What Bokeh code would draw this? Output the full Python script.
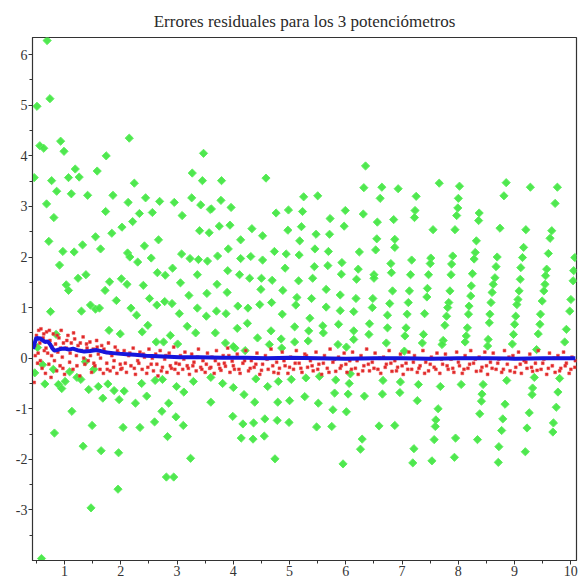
import math
from bokeh.plotting import figure
from bokeh.models import Range1d, FixedTicker
from bokeh.embed import file_html
from bokeh.resources import INLINE

title_text = "Errores residuales para los 3 potenciómetros"
x_ticks = [1, 2, 3, 4, 5, 6, 7, 8, 9, 10]
x_minor = [0.5, 1.5, 2.5, 3.5, 4.5, 5.5, 6.5, 7.5, 8.5, 9.5]
y_ticks = [-3, -2, -1, 0, 1, 2, 3, 4, 5, 6]
y_minor = [-3.5, -2.5, -1.5, -0.5, 0.5, 1.5, 2.5, 3.5, 4.5, 5.5]

# potentiometer 1 (green diamonds): (x, residual)
green_pts = [
    (0.69, 6.28), (0.51, 4.98), (0.74, 5.13), (0.56, 4.20), (0.63, 4.15), (0.93, 4.29), (0.99, 4.09),
    (0.46, 3.57), (0.77, 3.51), (0.86, 3.30), (1.07, 3.57), (1.19, 3.74), (1.26, 3.58), (1.12, 3.25),
    (1.41, 3.22), (1.58, 3.70), (1.74, 4.00), (2.15, 4.35), (2.24, 3.46), (1.86, 3.22), (2.13, 3.08),
    (0.68, 3.05), (0.81, 2.78), (1.73, 2.90), (2.33, 2.86), (2.21, 2.70), (2.44, 3.17), (2.69, 3.10),
    (2.56, 2.88), (2.95, 3.08), (3.09, 2.82), (3.27, 3.66), (3.26, 3.17), (2.02, 2.59),
    (3.47, 4.05), (3.45, 3.51), (3.42, 3.03), (3.59, 2.94), (0.72, 2.31), (0.97, 2.11), (1.17, 2.10),
    (1.32, 2.24), (1.55, 2.40), (1.64, 2.16), (1.84, 2.47), (0.91, 1.84), (2.12, 2.08), (2.16, 2.00),
    (2.30, 1.90), (2.42, 2.22), (2.67, 2.34), (2.54, 1.98), (3.08, 2.06), (3.23, 1.97), (3.38, 1.95),
    (3.54, 1.92), (3.40, 2.52), (3.57, 2.48), (2.65, 1.69), (2.79, 1.64), (2.92, 1.78), (3.36, 1.65),
    (1.24, 1.58), (1.38, 1.65), (1.03, 1.45), (1.07, 1.34), (1.80, 1.51), (1.72, 1.34), (2.01, 1.57),
    (2.11, 1.46), (2.40, 1.44), (3.06, 1.49), (3.53, 1.28), (2.51, 1.18), (2.64, 1.05), (2.78, 1.12),
    (2.91, 1.08), (3.21, 1.24), (1.92, 1.14), (0.75, 0.92), (1.30, 0.93), (1.46, 1.05), (1.55, 0.97),
    (1.62, 0.99), (2.18, 0.99), (2.28, 0.85), (3.04, 0.88), (3.36, 0.99), (3.52, 0.83), (2.48, 0.65),
    (3.18, 0.63), (1.79, 0.55), (1.99, 0.48), (2.38, 0.52), (0.85, 0.47), (2.88, 0.45), (3.33, 0.50),
    (2.63, 0.32), (2.76, 0.32), (3.01, 0.28), (0.52, 0.21),
    (6.35, 3.80), (3.79, 3.51), (4.58, 3.56), (6.32, 3.37), (6.64, 3.38), (6.61, 3.16), (5.25, 3.19),
    (5.50, 3.21), (3.78, 3.12), (3.96, 2.98), (3.61, 2.95), (4.76, 2.87), (4.98, 2.93), (5.23, 2.90),
    (5.99, 2.92), (6.31, 2.85), (5.72, 2.76), (6.56, 2.69), (6.85, 2.74), (3.75, 2.61), (3.94, 2.63),
    (4.33, 2.56), (4.97, 2.53), (5.21, 2.60), (5.47, 2.45), (5.71, 2.45), (5.97, 2.61), (4.13, 2.34),
    (4.52, 2.42), (5.18, 2.32), (6.55, 2.36), (3.91, 2.16), (4.73, 2.11), (4.94, 2.06), (5.17, 2.04),
    (5.45, 2.16), (5.69, 2.11), (6.24, 2.10), (6.53, 2.14), (3.72, 2.02), (4.13, 1.97), (4.31, 2.01),
    (4.52, 1.94), (5.93, 1.89), (6.80, 1.87), (3.90, 1.73), (4.11, 1.65), (4.29, 1.58), (4.50, 1.58),
    (4.69, 1.54), (4.92, 1.78), (5.16, 1.53), (5.41, 1.58), (5.44, 1.81), (5.68, 1.83), (5.92, 1.66),
    (6.19, 1.56), (6.22, 1.76), (6.50, 1.65), (6.50, 1.58), (6.81, 1.69), (3.71, 1.46), (4.49, 1.36),
    (3.89, 1.30), (4.88, 1.34), (5.65, 1.36), (5.90, 1.25), (5.13, 1.20), (5.11, 1.05), (5.39, 1.18),
    (6.18, 1.18), (6.48, 1.18), (6.47, 1.00), (6.78, 1.08), (4.08, 1.03), (4.26, 0.99), (4.47, 1.06),
    (4.68, 1.10), (5.65, 1.01), (5.90, 0.94), (6.14, 0.92), (3.70, 0.93), (3.87, 0.88), (4.87, 0.87),
    (5.36, 0.79), (6.74, 0.85), (4.25, 0.69), (4.07, 0.59), (4.67, 0.54), (5.09, 0.62), (5.34, 0.54),
    (5.59, 0.64), (5.60, 0.50), (5.87, 0.67), (6.14, 0.54), (6.42, 0.68), (6.41, 0.47), (6.74, 0.60),
    (3.68, 0.50), (4.43, 0.40), (3.86, 0.30), (4.03, 0.20), (4.64, 0.27), (4.85, 0.38), (4.86, 0.20),
    (5.09, 0.32), (5.33, 0.34), (5.86, 0.27), (6.14, 0.37), (6.72, 0.30), (4.00, 0.23), (4.21, 0.15),
    (6.01, 0.22),
    (6.93, 3.35), (6.87, 2.35), (6.87, 2.19), (6.83, 1.33),
    (7.25, 3.20), (7.23, 2.92), (7.22, 2.78), (7.17, 1.94), (7.15, 1.65), (7.13, 1.33), (7.11, 1.10),
    (7.09, 0.87), (7.07, 0.60), (7.05, 0.44), (7.04, 0.14),
    (7.55, 2.54), (7.51, 1.98), (7.50, 1.87), (7.47, 1.65), (7.45, 1.38), (7.44, 1.21), (7.40, 0.88),
    (7.38, 0.47), (7.36, 0.30),
    (7.66, 3.46), (8.02, 3.40), (8.00, 3.16), (7.99, 2.97), (7.97, 2.82), (7.94, 2.54), (7.90, 2.02),
    (7.88, 1.86), (7.87, 1.65), (7.85, 1.33), (7.83, 1.10), (7.81, 1.00), (7.79, 0.83), (7.76, 0.65),
    (7.73, 0.35), (7.71, 0.27),
    (8.37, 2.87), (8.36, 2.72), (8.32, 2.32), (8.30, 2.09), (8.28, 1.96), (8.25, 1.67), (8.23, 1.43),
    (8.22, 1.23), (8.19, 1.03), (8.18, 0.87), (8.16, 0.60), (8.14, 0.44), (8.12, 0.32),
    (8.85, 3.47), (8.81, 3.21), (8.74, 2.57), (8.69, 2.00), (8.67, 1.81), (8.65, 1.59), (8.62, 1.46),
    (8.60, 1.30), (8.58, 1.10), (8.56, 0.87), (8.55, 0.70), (8.53, 0.37), (8.52, 0.24),
    (9.28, 3.38), (9.20, 2.54), (9.16, 2.19), (9.14, 1.99), (9.11, 1.79), (9.10, 1.56), (9.08, 1.33),
    (9.06, 1.16), (9.04, 1.06), (9.02, 0.83), (9.00, 0.67), (8.98, 0.47), (8.96, 0.28),
    (9.76, 3.38), (9.72, 3.06), (9.66, 2.52), (9.63, 2.37), (9.60, 2.07), (9.57, 1.76), (9.55, 1.63),
    (9.54, 1.46), (9.52, 1.33), (9.49, 1.13), (9.46, 0.87), (9.45, 0.67), (9.42, 0.48), (9.39, 0.17),
    (10.07, 1.99), (10.05, 1.73), (10.04, 1.53), (10.00, 1.16), (9.98, 0.93), (9.92, 0.57), (9.89, 0.32),
    (0.47, -0.29), (0.65, -0.51), (0.80, -0.22), (0.61, -0.13), (0.89, -0.52), (0.95, -0.60),
    (1.01, -0.46), (1.09, -0.27), (1.22, -0.38), (1.29, -0.42), (1.37, -0.07), (1.52, -0.22),
    (1.13, -1.05), (0.82, -1.48), (1.43, -0.62), (1.60, -0.56), (1.77, -0.51), (1.68, -0.79),
    (1.88, -0.64), (1.97, -0.82), (2.06, -0.65), (1.49, -1.33), (1.33, -1.74), (1.65, -1.83),
    (1.96, -1.87), (2.04, -1.37), (2.26, -0.89), (2.37, -0.50), (2.46, -0.75), (2.34, -1.37),
    (2.60, -1.26), (2.73, -1.05), (2.85, -0.89), (2.61, -0.44), (2.74, -0.42), (2.99, -0.56),
    (3.12, -0.67), (2.98, -1.16), (3.11, -1.33), (2.83, -1.55), (3.29, -0.46), (3.24, -1.98),
    (2.81, -2.35), (2.94, -2.35), (1.95, -2.59), (1.47, -2.96), (0.59, -3.96), (3.60, -0.87),
    (3.60, -0.38),
    (3.81, -0.50), (4.00, -0.58), (4.19, -0.72), (4.38, -0.87), (4.40, -0.41), (4.61, -0.56),
    (4.80, -0.46), (5.03, -0.42), (4.79, -0.87), (5.00, -0.84), (5.27, -0.76), (5.29, -0.39),
    (5.53, -0.36), (5.51, -0.89), (5.80, -0.69), (5.77, -1.02), (5.82, -0.43), (6.06, -0.50),
    (6.04, -0.71), (6.01, -1.06), (6.08, -0.31), (6.33, -0.75), (6.66, -0.44), (6.65, -0.71),
    (3.99, -1.15), (4.17, -1.30), (4.36, -1.28), (4.56, -1.20), (4.78, -1.23), (4.99, -1.27),
    (4.14, -1.58), (4.35, -1.60), (4.55, -1.54), (4.74, -1.99), (5.48, -1.36), (5.75, -1.35),
    (5.95, -2.09), (6.29, -1.60), (6.26, -1.80), (6.59, -1.34), (6.87, -1.33),
    (6.97, -0.47), (6.96, -0.68), (7.29, -0.52), (7.27, -0.84), (7.21, -1.79), (7.19, -2.07),
    (7.68, -0.56), (7.64, -1.00), (7.60, -1.22), (7.59, -1.35), (7.57, -1.61), (7.53, -2.03),
    (8.05, -0.52), (7.95, -1.58), (7.93, -1.96), (8.44, -0.52), (8.42, -0.71), (8.41, -0.85),
    (8.38, -1.10), (8.34, -1.61), (8.86, -0.44), (8.83, -0.91), (8.79, -1.20), (8.77, -1.43),
    (8.72, -1.75), (8.71, -2.06), (9.35, -0.38), (9.32, -0.59), (9.31, -0.72), (9.26, -1.08),
    (9.22, -1.38), (9.19, -1.85), (9.80, -0.40), (9.77, -0.67), (9.74, -0.97), (9.69, -1.28),
    (9.68, -1.46),
]

# potentiometer 2 (red dots)
red_pts = [
    (0.46, -0.48), (0.48, 0.05), (0.50, 0.45), (0.52, -0.10), (0.54, 0.55), (0.56, 0.30), (0.58, 0.58),
    (0.60, -0.20), (0.62, 0.40), (0.64, 0.15), (0.66, -0.30), (0.68, 0.52), (0.70, 0.10), (0.72, -0.12),
    (0.74, 0.35), (0.76, -0.38), (0.78, 0.22), (0.80, 0.48), (0.82, -0.05), (0.84, 0.28), (0.86, -0.25),
    (0.88, 0.12), (0.90, 0.40), (0.92, -0.15), (0.94, 0.55), (0.96, 0.02), (0.98, 0.30), (1.00, -0.32),
    (1.03, 0.20), (1.06, 0.45), (1.09, -0.08), (1.12, 0.30), (1.15, -0.22), (1.18, 0.38), (1.21, 0.05),
    (1.24, 0.25), (1.27, -0.35), (1.30, 0.15), (1.33, 0.42), (1.36, -0.12), (1.39, 0.28), (1.42, -0.05),
    (1.45, 0.32), (1.48, -0.28), (1.51, 0.18), (1.54, -0.15), (1.57, 0.35), (1.60, 0.08), (1.63, -0.22),
    (1.66, 0.25), (1.69, -0.30), (1.72, 0.12), (1.75, -0.10), (1.78, 0.30), (1.81, -0.25), (1.84, 0.05),
    (1.87, -0.18), (1.90, 0.22), (1.93, -0.30), (1.96, 0.10), (1.99, -0.12),
    (2.02, -0.20), (2.06, 0.15), (2.10, -0.28), (2.14, 0.05), (2.18, -0.15), (2.22, 0.20), (2.26, -0.32),
    (2.30, -0.05), (2.34, 0.12), (2.38, -0.22), (2.42, 0.02), (2.46, -0.30), (2.50, 0.18), (2.54, -0.12),
    (2.58, -0.25), (2.62, 0.08), (2.66, -0.35), (2.70, 0.15), (2.74, -0.18), (2.78, -0.02), (2.82, -0.28),
    (2.86, 0.10), (2.90, -0.20), (2.94, 0.22), (2.98, -0.10), (3.02, -0.30), (3.06, 0.05), (3.10, -0.22),
    (3.14, 0.12), (3.18, -0.15), (3.22, -0.32), (3.26, 0.08), (3.30, -0.08), (3.34, -0.25), (3.38, 0.18),
    (3.42, -0.18), (3.46, -0.05), (3.50, -0.28), (3.54, 0.10), (3.58, -0.20), (3.62, 0.02), (3.66, -0.30),
    (3.70, 0.15), (3.74, -0.12), (3.78, -0.24), (3.82, 0.05), (3.86, -0.16), (3.90, 0.20), (3.94, -0.28),
    (3.98, -0.06),
    (4.02, -0.22), (4.07, 0.08), (4.12, -0.30), (4.17, -0.10), (4.22, 0.15), (4.27, -0.25), (4.32, -0.05),
    (4.37, -0.18), (4.42, 0.10), (4.47, -0.32), (4.52, -0.12), (4.57, 0.05), (4.62, -0.22), (4.67, 0.18),
    (4.72, -0.28), (4.77, -0.08), (4.82, -0.20), (4.87, 0.12), (4.92, -0.15), (4.97, -0.30), (5.02, 0.02),
    (5.07, -0.22), (5.12, 0.15), (5.17, -0.10), (5.22, -0.28), (5.27, 0.08), (5.32, -0.18), (5.37, -0.05),
    (5.42, -0.25), (5.47, 0.12), (5.52, -0.12), (5.57, -0.32), (5.62, 0.05), (5.67, -0.20), (5.72, 0.18),
    (5.77, -0.08), (5.82, -0.26), (5.87, 0.02), (5.92, -0.15), (5.97, 0.10),
    (6.02, -0.28), (6.07, -0.05), (6.12, 0.12), (6.17, -0.20), (6.22, -0.32), (6.27, 0.05), (6.32, -0.15),
    (6.37, 0.18), (6.42, -0.25), (6.47, -0.08), (6.52, 0.10), (6.57, -0.22), (6.62, -0.30), (6.67, 0.02),
    (6.72, -0.12), (6.77, 0.15), (6.82, -0.26), (6.87, -0.05), (6.92, -0.18), (6.97, 0.08), (7.02, -0.32),
    (7.07, -0.10), (7.12, 0.12), (7.17, -0.22), (7.22, 0.05), (7.27, -0.28), (7.32, -0.15), (7.37, 0.15),
    (7.42, -0.08), (7.47, -0.25), (7.52, 0.02), (7.57, -0.18), (7.62, 0.10), (7.67, -0.30), (7.72, -0.12),
    (7.77, 0.08), (7.82, -0.22), (7.87, -0.02), (7.92, -0.28), (7.97, 0.12),
    (8.02, -0.15), (8.07, -0.30), (8.12, 0.05), (8.17, -0.20), (8.22, 0.15), (8.27, -0.10), (8.32, -0.26),
    (8.37, 0.02), (8.42, -0.18), (8.47, 0.12), (8.52, -0.32), (8.57, -0.08), (8.62, 0.10), (8.67, -0.22),
    (8.72, -0.02), (8.77, -0.28), (8.82, 0.15), (8.87, -0.12), (8.92, -0.25), (8.97, 0.05), (9.02, -0.18),
    (9.07, 0.12), (9.12, -0.30), (9.17, -0.05), (9.22, -0.20), (9.27, 0.08), (9.32, -0.26), (9.37, -0.10),
    (9.42, 0.15), (9.47, -0.22), (9.52, -0.02), (9.57, -0.32), (9.62, 0.10), (9.67, -0.15), (9.72, -0.28),
    (9.77, 0.05), (9.82, -0.20), (9.87, 0.12), (9.92, -0.10), (9.97, -0.30), (10.02, 0.02), (10.07, -0.18),
    (0.47, 0.25), (0.53, 0.10), (0.57, -0.05), (0.63, 0.48), (0.67, 0.20), (0.73, 0.55), (0.77, 0.05),
    (0.83, 0.15), (0.87, 0.45), (0.93, 0.20), (0.97, -0.20), (1.04, 0.35), (1.10, 0.10), (1.16, 0.50),
    (1.22, -0.15), (1.28, 0.30), (1.34, 0.00), (1.40, 0.20), (1.46, 0.05), (1.52, -0.10), (1.58, 0.22),
    (1.64, 0.00), (1.70, 0.18), (1.76, -0.22), (1.82, 0.10), (1.88, -0.05), (1.94, 0.15), (2.00, -0.22),
    (2.08, -0.10), (2.16, 0.10), (2.24, -0.20), (2.32, -0.10), (2.40, 0.08), (2.48, -0.18), (2.56, 0.00),
    (2.64, -0.12), (2.72, -0.25), (2.80, 0.05), (2.88, -0.15), (2.96, -0.22), (3.04, -0.12), (3.12, -0.02),
    (3.20, -0.20), (3.28, -0.15), (3.36, 0.02), (3.44, -0.22), (3.52, -0.12), (3.60, -0.18), (3.68, -0.05),
    (3.76, -0.20), (3.84, -0.10), (3.92, 0.05), (4.00, -0.15), (4.10, -0.22), (4.20, -0.05), (4.30, -0.20),
    (4.40, -0.12), (4.50, -0.24), (4.60, -0.02), (4.70, -0.15), (4.80, -0.30), (4.90, -0.05), (5.00, -0.18),
    (5.10, -0.10), (5.20, -0.20), (5.30, 0.05), (5.40, -0.15), (5.50, -0.22), (5.60, -0.10), (5.70, -0.28),
    (5.80, -0.02), (5.90, -0.20), (6.00, -0.12), (6.10, -0.22), (6.20, -0.05), (6.30, -0.25), (6.40, -0.12),
    (6.50, -0.20), (6.60, 0.00), (6.70, -0.18), (6.80, -0.10), (6.90, -0.25), (7.00, -0.15), (7.10, -0.22),
    (7.20, -0.08), (7.30, -0.20), (7.40, -0.30), (7.50, -0.12), (7.60, -0.22), (7.70, -0.02), (7.80, -0.15),
    (7.90, -0.20), (8.00, -0.08), (8.10, -0.22), (8.20, -0.12), (8.30, -0.02), (8.40, -0.25), (8.50, -0.15),
    (8.60, -0.20), (8.70, -0.10), (8.80, -0.22), (8.90, 0.02), (9.00, -0.28), (9.10, -0.12), (9.20, -0.08),
    (9.30, -0.18), (9.40, -0.24), (9.50, -0.10), (9.60, -0.20), (9.70, 0.00), (9.80, -0.25), (9.90, -0.15),
    (10.00, -0.22), (10.08, -0.05),
]

# potentiometer 3 (blue)
blue_x = [0.44, 0.47, 0.50, 0.53, 0.56, 0.60, 0.65, 0.70, 0.74, 0.78, 0.82, 0.86, 0.92, 1.00, 1.08,
          1.15, 1.25, 1.35, 1.45, 1.57, 1.65, 1.75, 1.86, 1.95, 2.10, 2.25, 2.45, 2.65, 2.85, 3.05,
          3.40, 3.80, 4.20, 4.60, 5.00, 5.50, 6.00, 6.50, 7.00, 7.50, 8.00, 8.50, 9.00, 9.50, 10.00, 10.08]
blue_y = [0.18, 0.30, 0.41, 0.38, 0.40, 0.36, 0.32, 0.33, 0.28, 0.20, 0.15, 0.16, 0.18, 0.19, 0.17,
          0.19, 0.15, 0.13, 0.14, 0.16, 0.14, 0.11, 0.10, 0.09, 0.08, 0.07, 0.05, 0.04, 0.03, 0.02,
          0.02, 0.01, 0.01, 0.00, 0.01, 0.00, -0.01, 0.00, 0.00, -0.01, 0.00, 0.00, -0.01, 0.00, 0.00, 0.00]

green_x = [a for a, b in green_pts]
green_y = [b for a, b in green_pts]
red_x = [a for a, b in red_pts]
red_y = [b for a, b in red_pts]

p = figure(width=578, height=583, output_backend="svg", toolbar_location=None,
           x_range=Range1d(0.43, 10.10), y_range=Range1d(-4.0, 6.34),
           min_border_left=32, min_border_right=2, min_border_top=37, min_border_bottom=23)
p.background_fill_color = "white"
p.border_fill_color = "white"
p.outline_line_color = "#333333"
p.outline_line_width = 1.2
p.grid.visible = False

p.title.text = title_text
p.title.align = "center"
p.title.text_font = "Liberation Serif"
p.title.text_font_size = "17px"
p.title.text_font_style = "normal"
p.title.text_color = "#2a2a2a"
p.title.standoff = 13

for ax in (p.xaxis[0], p.yaxis[0]):
    ax.axis_line_color = "#333333"
    ax.major_tick_line_color = "#333333"
    ax.minor_tick_line_color = "#333333"
    ax.major_tick_in = 0
    ax.major_tick_out = 4
    ax.minor_tick_in = 0
    ax.minor_tick_out = 3
    ax.major_label_text_font = "Liberation Serif"
    ax.major_label_text_font_size = "14px"
    ax.major_label_text_color = "#333333"
    ax.major_label_standoff = 1

p.xaxis.ticker = FixedTicker(ticks=x_ticks, minor_ticks=x_minor)
p.yaxis.ticker = FixedTicker(ticks=y_ticks, minor_ticks=y_minor)
p.yaxis.major_label_overrides = {t: str(t) for t in y_ticks}

p.scatter(green_x, green_y, marker="square", angle=math.pi / 4, size=5.8,
          fill_color="#46e646", line_color="#5ef05e", line_width=1, fill_alpha=0.95)
p.scatter(red_x, red_y, marker="square", size=2.8, fill_color="#dc2626",
          line_color="#ee4a4a", line_width=0.6)
p.line(blue_x, blue_y, line_width=4, line_color="#1616dc")

open("out.html", "w").write(file_html(p, INLINE))
